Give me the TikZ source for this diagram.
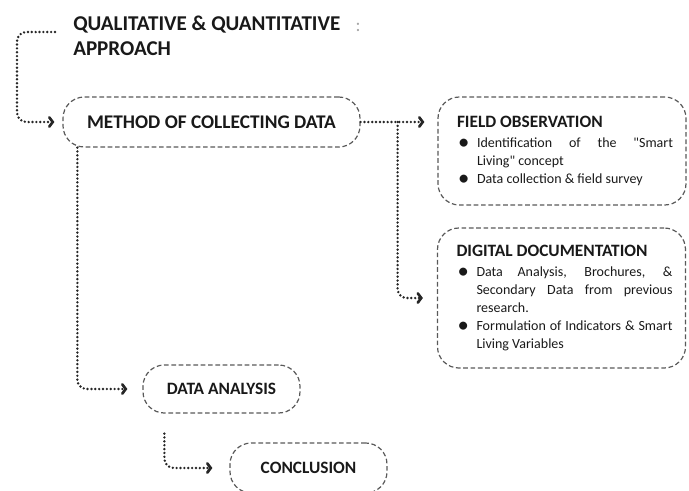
\documentclass[tikz,border=0pt]{standalone}
\usepackage{fontspec}
\setmainfont{Carlito}
\usetikzlibrary{arrows.meta,positioning}
\newlength{\px}
\setlength{\px}{0.75pt}
\tikzset{stagebox/.style={draw=black!65,dash pattern=on 3.5pt off 2pt,line width=0.9pt,rounded corners=16pt,
        font=\fontsize{13}{15}\selectfont\bfseries,text=black!90},
    notebox/.style={stagebox,align=justify,text width=222\px,inner xsep=13\px,
        font=\fontsize{10.5}{13.5}\selectfont,execute at begin node={\leftskip=6\px\relax}},
    dotflow/.style={black!85,line width=2pt,dash pattern=on 0pt off 2.9pt,line cap=round,rounded corners=7pt,
        -{Straight Barb[length=2.6pt,width=7pt,line cap=round]}}
}
\newcommand{\bulletmark}{\raisebox{-1.5pt}{\fontsize{17}{17}\selectfont\textbullet}}
\newcommand{\bulletitem}[1]
{
% one hanging entry with a big bullet in front
    \par\hangindent=20\px\hangafter=1\noindent
    \makebox[20\px][l]{\hspace{1\px}\bulletmark}#1\par
}
\newcommand{\boxhead}[1]{{\fontsize{13}{15}\selectfont\bfseries #1}\par\vspace{2pt}}
\begin{document}
\begin{tikzpicture}[x=0.75pt,y=-0.75pt]
\useasboundingbox (0,0) rectangle (689,490);

\node (approach) [anchor=west,align=left,inner sep=0,text=black!90,font=\fontsize{15.8}{19}\selectfont\bfseries] at (73,35.5)
    {QUALITATIVE \& QUANTITATIVE\\APPROACH};
\node (mark) [text=black!35,font=\fontsize{14}{14}\selectfont] at (358,27) {:};

\node (method) [stagebox,minimum width=297\px,minimum height=50\px,font=\fontsize{14.5}{16}\selectfont\bfseries] at (211.5,122)
    {METHOD OF COLLECTING DATA};

\node (field) [notebox,minimum height=108\px] at (562,151) {\boxhead{FIELD OBSERVATION}
    \bulletitem{Identification of the \textquotedbl Smart\linebreak Living\textquotedbl\ concept}
    \bulletitem{Data collection \& field survey}};

\node (digital) [notebox,minimum height=140\px] at (561.5,298) {\boxhead{DIGITAL DOCUMENTATION}
    \bulletitem{Data Analysis, Brochures, \&\linebreak Secondary Data from previous\linebreak research.}
    \bulletitem{Formulation of Indicators \& Smart\linebreak Living Variables}};

\node (analysis) [stagebox,minimum width=157\px,minimum height=48\px] at (221.5,389) {DATA ANALYSIS};
\node (conclusion) [stagebox,minimum width=157\px,minimum height=50\px] at (308.5,468) {CONCLUSION};

\coordinate (split) at ([xshift=37\px]method.east);

\draw [dotflow] ([xshift=-18\px,yshift=3.5\px]approach.west) -- ++(-38,0) |- ([xshift=-8\px]method.west);
\draw [dotflow,shorten >=13\px] (method.east) -- (method.east -| field.west);
\draw [dotflow] (split) |- ([xshift=-14\px]digital.west);
\draw [dotflow] ([xshift=15\px]method.south west) |- ([xshift=-15\px]analysis.west);
\draw [dotflow] ([xshift=22\px,yshift=-20\px]analysis.south west) |- ([xshift=-17\px]conclusion.west);

\end{tikzpicture}
\end{document}
